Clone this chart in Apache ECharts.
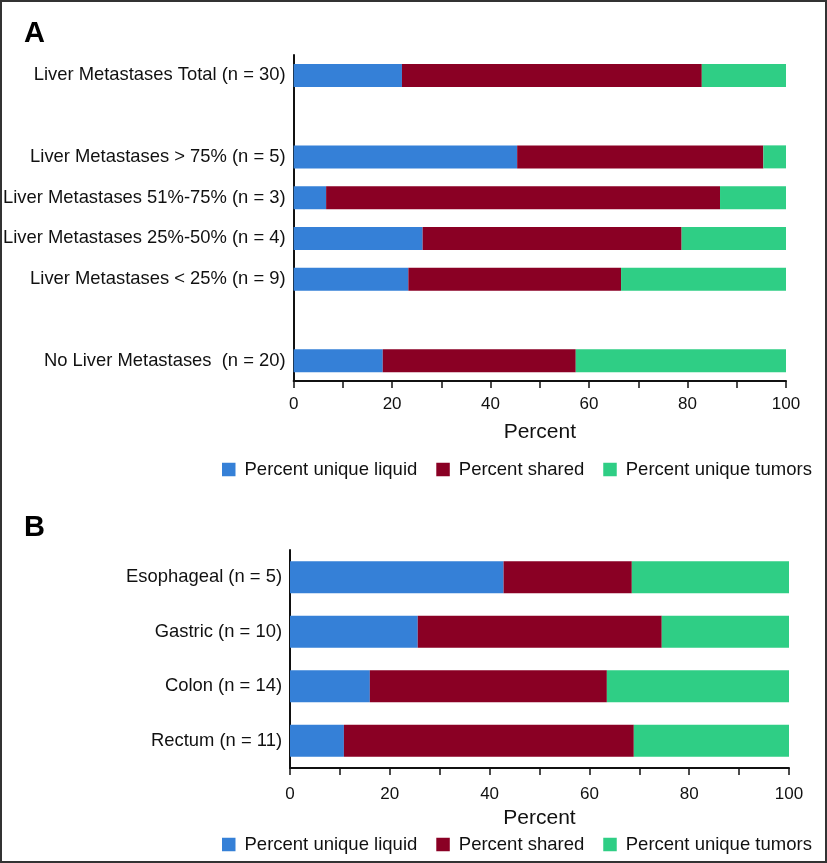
<!DOCTYPE html>
<html>
<head>
<meta charset="utf-8">
<script src="https://cdn.jsdelivr.net/npm/echarts@6/dist/echarts.min.js"></script>
<style>
html,body{margin:0;padding:0;background:#fff;}
#wrap{position:relative;width:827px;height:863px;}
#chart{position:absolute;left:0;top:0;width:827px;height:863px;}
#frame{position:absolute;left:0;top:0;width:827px;height:863px;box-sizing:border-box;border:2px solid #333;pointer-events:none;}
</style>
</head>
<body>
<div id="wrap"><div id="chart"></div><div id="frame"></div></div>
<script>
// Panel A
var catsA = ['Liver Metastases Total (n = 30)', ' ', 'Liver Metastases > 75% (n = 5)', 'Liver Metastases 51%-75% (n = 3)', 'Liver Metastases 25%-50% (n = 4)', 'Liver Metastases < 25% (n = 9)', '  ', 'No Liver Metastases  (n = 20)'];
var liquidA = [22.0, null, 45.4, 6.6, 26.2, 23.3, null, 18.1];
var sharedA = [60.9, null, 50.0, 80.0, 52.6, 43.2, null, 39.2];
var tumorsA = [17.1, null, 4.6, 13.4, 21.2, 33.5, null, 42.7];
// Panel B
var catsB = ['Esophageal (n = 5)', 'Gastric (n = 10)', 'Colon (n = 14)', 'Rectum (n = 11)'];
var liquidB = [42.8, 25.6, 16.0, 10.8];
var sharedB = [25.7, 48.9, 47.5, 58.1];
var tumorsB = [31.5, 25.5, 36.5, 31.1];
var xTicks = [0, 20, 40, 60, 80, 100];
var seriesNames = ['Percent unique liquid', 'Percent shared', 'Percent unique tumors'];
var colors = ['#3580d7', '#8a0024', '#2fce85'];

var FONT = '"Liberation Sans", Arial, Helvetica, sans-serif';
var chart = echarts.init(document.getElementById('chart'), null, {renderer: 'canvas'});

function xAxisCfg(gridIndex, nameGap, labelMargin) {
  return {
    type: 'value', gridIndex: gridIndex, min: xTicks[0], max: xTicks[xTicks.length - 1], interval: xTicks[1] - xTicks[0],
    name: 'Percent', nameLocation: 'middle', nameGap: nameGap,
    nameTextStyle: {fontFamily: FONT, fontSize: 21, color: '#111'},
    axisLine: {show: true, lineStyle: {color: '#111', width: 2}},
    axisTick: {show: true, length: 7, lineStyle: {color: '#111', width: 1.5}},
    minorTick: {show: true, splitNumber: 2, length: 7, lineStyle: {color: '#111', width: 1.5}},
    splitLine: {show: false},
    axisLabel: {fontFamily: FONT, fontSize: 17, color: '#111', margin: labelMargin,
      formatter: function (v) { return xTicks.indexOf(v) >= 0 ? String(v) : ''; }}
  };
}
function yAxisCfg(gridIndex, data) {
  return {
    type: 'category', gridIndex: gridIndex, data: data, inverse: true,
    axisLine: {show: true, lineStyle: {color: '#111', width: 2}},
    axisTick: {show: false},
    axisLabel: {fontFamily: FONT, fontSize: 18.4, color: '#111', margin: 8}
  };
}
function mkSeries(idx, data, axisIdx, bw) {
  return {
    name: seriesNames[idx], type: 'bar', stack: 's' + axisIdx,
    xAxisIndex: axisIdx, yAxisIndex: axisIdx, data: data, barWidth: bw,
    itemStyle: {color: colors[idx]}, emphasis: {disabled: true}, animation: false
  };
}
function legendCfg(top) {
  return {
    data: seriesNames, left: 217, top: top, itemWidth: 13.5, itemHeight: 13.5, itemGap: 19,
    icon: 'rect', selectedMode: false,
    textStyle: {fontFamily: FONT, fontSize: 18.5, color: '#111', padding: [0, 0, 0, 4]}
  };
}

chart.setOption({
  animation: false,
  textStyle: {fontFamily: FONT},
  title: [
    {text: 'A', left: 19, top: 14, textStyle: {fontFamily: FONT, fontSize: 29, fontWeight: 'bold', color: '#000'}},
    {text: 'B', left: 19, top: 508, textStyle: {fontFamily: FONT, fontSize: 29, fontWeight: 'bold', color: '#000'}}
  ],
  grid: [
    {left: 292, width: 494, top: 55, height: 326, containLabel: false},
    {left: 290, width: 499, top: 550, height: 218, containLabel: false}
  ],
  legend: [legendCfg(455), legendCfg(830)],
  xAxis: [xAxisCfg(0, 41, 15), xAxisCfg(1, 40, 18)],
  yAxis: [yAxisCfg(0, catsA), yAxisCfg(1, catsB)],
  series: [
    mkSeries(0, liquidA, 0, 23), mkSeries(1, sharedA, 0, 23), mkSeries(2, tumorsA, 0, 23),
    mkSeries(0, liquidB, 1, 32), mkSeries(1, sharedB, 1, 32), mkSeries(2, tumorsB, 1, 32)
  ]
});
</script>
</body>
</html>
